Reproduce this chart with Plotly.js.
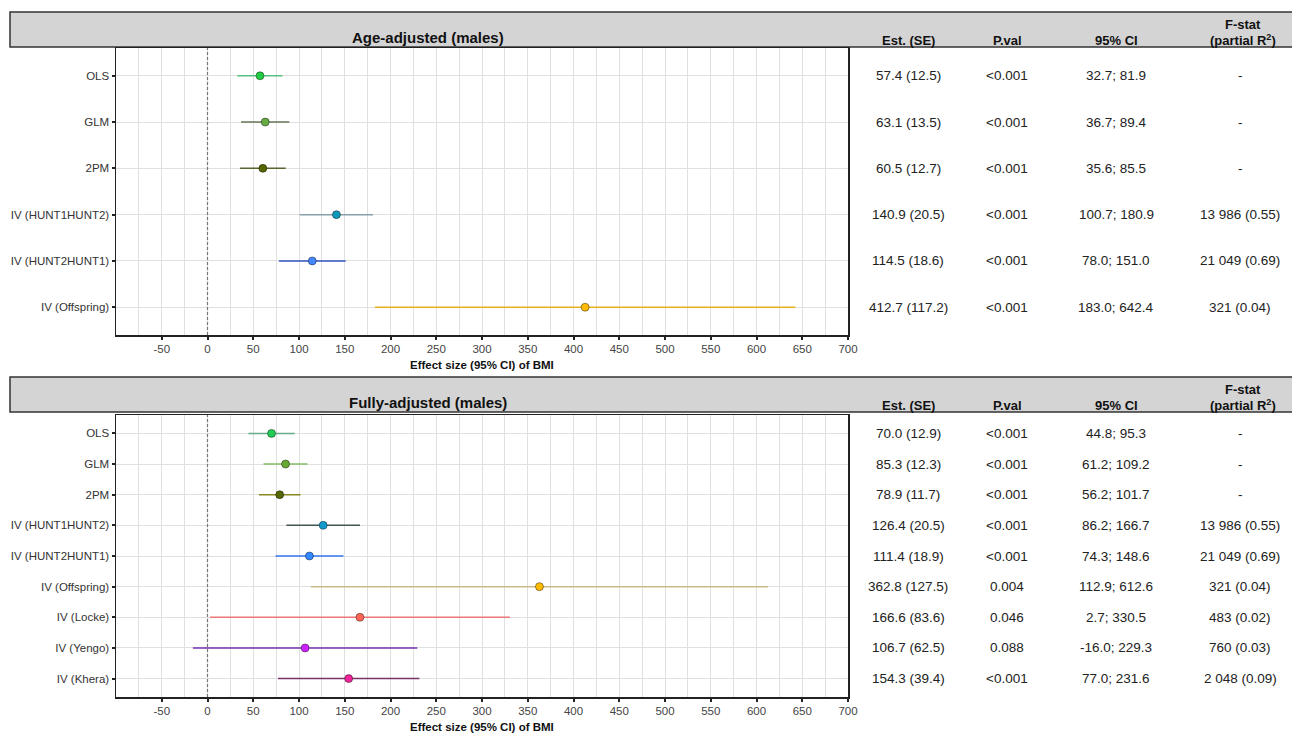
<!DOCTYPE html>
<html>
<head>
<meta charset="utf-8">
<script src="https://cdn.plot.ly/plotly-3.0.1.min.js"></script>
<style>html,body{margin:0;padding:0;background:#fff;}#chart{width:1292px;height:734px;}</style>
</head>
<body>
<div id="chart"></div>
<script>
// ---------- DATA ----------
const topTitle = 'Age-adjusted (males)';
const topLabels = ['OLS', 'GLM', '2PM', 'IV (HUNT1HUNT2)', 'IV (HUNT2HUNT1)', 'IV (Offspring)'];
const topEst = [57.4, 63.1, 60.5, 140.9, 114.5, 412.7];
const topSE  = [12.5, 13.5, 12.7, 20.5, 18.6, 117.2];
const topLo  = [32.7, 36.7, 35.6, 100.7, 78.0, 183.0];
const topHi  = [81.9, 89.4, 85.5, 180.9, 151.0, 642.4];
const topP   = ['<0.001', '<0.001', '<0.001', '<0.001', '<0.001', '<0.001'];
const topF   = ['-', '-', '-', '13 986 (0.55)', '21 049 (0.69)', '321 (0.04)'];

const botTitle = 'Fully-adjusted (males)';
const botLabels = ['OLS', 'GLM', '2PM', 'IV (HUNT1HUNT2)', 'IV (HUNT2HUNT1)', 'IV (Offspring)', 'IV (Locke)', 'IV (Yengo)', 'IV (Khera)'];
const botEst = [70.0, 85.3, 78.9, 126.4, 111.4, 362.8, 166.6, 106.7, 154.3];
const botSE  = [12.9, 12.3, 11.7, 20.5, 18.9, 127.5, 83.6, 62.5, 39.4];
const botLo  = [44.8, 61.2, 56.2, 86.2, 74.3, 112.9, 2.7, -16.0, 77.0];
const botHi  = [95.3, 109.2, 101.7, 166.7, 148.6, 612.6, 330.5, 229.3, 231.6];
const botP   = ['<0.001', '<0.001', '<0.001', '<0.001', '<0.001', '0.004', '0.046', '0.088', '<0.001'];
const botF   = ['-', '-', '-', '13 986 (0.55)', '21 049 (0.69)', '321 (0.04)', '483 (0.02)', '760 (0.03)', '2 048 (0.09)'];

const colHeaders = ['Est. (SE)', 'P.val', '95% CI'];
const fHeader = ['F-stat', '(partial R<sup>2</sup>)'];
const xTicks = [-50, 0, 50, 100, 150, 200, 250, 300, 350, 400, 450, 500, 550, 600, 650, 700];
const xTickText = ['-50', '0', '50', '100', '150', '200', '250', '300', '350', '400', '450', '500', '550', '600', '650', '700'];
const xTitle = 'Effect size (95% CI) of BMI';

// ---------- STYLE ----------
const topPointCol = ['#22cc44', '#66aa44', '#556600', '#1199bb', '#4488ff', '#ffbb00'];
const topLineCol  = ['#55c080', '#667755', '#556633', '#88a0a8', '#3355bb', '#e8b020'];
const botPointCol = ['#22cc55', '#66aa33', '#556600', '#1199cc', '#3388ff', '#ffbb00', '#ff6655', '#cc22ff', '#ee2299'];
const botLineCol  = ['#66aa88', '#88bb66', '#888822', '#445555', '#3377ee', '#ccbb88', '#ee7777', '#7733aa', '#773366'];

const W = 1292, H = 734;
const px = p => p / W;
const py = p => 1 - p / H;
const FONT = 'Liberation Sans, Arial, sans-serif';
const colX = [908, 1007, 1116];
const fX = 1240;

const traces = [];
const annotations = [];
const shapes = [];

function panel(labels, est, se, lo, hi, pv, fs, pcol, lcol, xa, ya, title, bandTop, bandBot, axisTitleY) {
  for (let i = 0; i < labels.length; i++) {
    traces.push({
      x: [lo[i], hi[i]], y: [labels[i], labels[i]], mode: 'lines', type: 'scatter',
      line: {color: lcol[i], width: 1.5}, xaxis: xa, yaxis: ya, hoverinfo: 'skip', showlegend: false
    });
  }
  traces.push({
    x: est, y: labels, mode: 'markers', type: 'scatter', xaxis: xa, yaxis: ya, showlegend: false,
    marker: {size: 8, color: pcol, line: {color: 'rgba(0,0,0,0.4)', width: 1}}
  });
  for (let i = 0; i < labels.length; i++) {
    const vals = [est[i].toFixed(1) + ' (' + se[i].toFixed(1) + ')', pv[i], lo[i].toFixed(1) + '; ' + hi[i].toFixed(1), fs[i]];
    const xs = colX.concat([fX]);
    vals.forEach((t, k) => annotations.push({
      xref: 'paper', yref: ya, x: px(xs[k]), y: i, text: t, showarrow: false,
      xanchor: 'center', yanchor: 'middle', font: {family: FONT, size: 13.5, color: '#222'}
    }));
  }
  // header band
  shapes.push({type: 'rect', xref: 'paper', yref: 'paper', x0: px(10), x1: px(1300), y0: py(bandBot), y1: py(bandTop),
    fillcolor: '#d4d4d4', line: {color: '#333', width: 1.5}, layer: 'below'});
  const hy = bandBot - 7;
  annotations.push({xref: 'paper', yref: 'paper', x: px(428), y: py(hy - 2), text: '<b>' + title + '</b>', showarrow: false,
    xanchor: 'center', yanchor: 'middle', font: {family: FONT, size: 15, color: '#111'}});
  colHeaders.forEach((t, k) => annotations.push({xref: 'paper', yref: 'paper', x: px(colX[k]), y: py(hy), text: '<b>' + t + '</b>',
    showarrow: false, xanchor: 'center', yanchor: 'middle', font: {family: FONT, size: 13, color: '#111'}}));
  annotations.push({xref: 'paper', yref: 'paper', x: px(1243), y: py(hy - 16), text: '<b>' + fHeader[0] + '</b>', showarrow: false,
    xanchor: 'center', yanchor: 'middle', font: {family: FONT, size: 13, color: '#111'}});
  annotations.push({xref: 'paper', yref: 'paper', x: px(1243), y: py(hy), text: '<b>' + fHeader[1] + '</b>', showarrow: false,
    xanchor: 'center', yanchor: 'middle', font: {family: FONT, size: 13, color: '#111'}});
  // axis title
  annotations.push({xref: 'paper', yref: 'paper', x: px(482), y: py(axisTitleY), text: '<b>' + xTitle + '</b>', showarrow: false,
    xanchor: 'center', yanchor: 'middle', font: {family: FONT, size: 11.5, color: '#111'}});
  // zero line
  const xr = xa === 'x' ? 'x' : 'x2';
  const yd = (ya === 'y' ? 'y' : 'y2') + ' domain';
  shapes.push({type: 'line', xref: xr, yref: yd, x0: 0, x1: 0, y0: 0, y1: 1,
    line: {color: '#777', width: 1.2, dash: '3px,2px'}});
}

panel(topLabels, topEst, topSE, topLo, topHi, topP, topF, topPointCol, topLineCol, 'x', 'y', topTitle, 12, 47, 365);
panel(botLabels, botEst, botSE, botLo, botHi, botP, botF, botPointCol, botLineCol, 'x2', 'y2', botTitle, 377, 412, 727);

function xaxisDef(anchor) {
  return {
    domain: [px(116), px(848)], anchor: anchor, range: [-100, 700],
    tickmode: 'array', tickvals: xTicks, ticktext: xTickText, ticks: 'outside', ticklen: 3, tickwidth: 2, tickcolor: '#222',
    showgrid: true, gridcolor: '#e0e0e0', gridwidth: 1, zeroline: false,
    minor: {tickmode: 'linear', tick0: 0, dtick: 25, showgrid: true, gridcolor: '#e0e0e0', gridwidth: 1, ticklen: 0},
    showline: true, linecolor: '#222', linewidth: 1.5, mirror: true,
    tickfont: {family: FONT, size: 11.5, color: '#444'}, fixedrange: true
  };
}
function yaxisDef(anchor, labels, dom) {
  return {
    domain: dom, anchor: anchor, type: 'category', categoryorder: 'array', categoryarray: labels,
    range: [labels.length - 1 + 0.6, -0.6], ticks: 'outside', ticklen: 3, tickwidth: 2, tickcolor: '#222',
    showgrid: true, gridcolor: '#e0e0e0', gridwidth: 1, zeroline: false,
    showline: true, linecolor: '#222', linewidth: 1.5, mirror: true,
    tickfont: {family: FONT, size: 11.5, color: '#333'}, fixedrange: true
  };
}

const layout = {
  width: W, height: H, margin: {l: 0, r: 0, t: 0, b: 0},
  paper_bgcolor: '#fff', plot_bgcolor: '#fff', showlegend: false,
  xaxis: xaxisDef('y'),
  yaxis: yaxisDef('x', topLabels, [py(335), py(48)]),
  xaxis2: xaxisDef('y2'),
  yaxis2: yaxisDef('x2', botLabels, [py(697), py(415)]),
  annotations: annotations, shapes: shapes
};

Plotly.newPlot('chart', traces, layout, {displayModeBar: false, staticPlot: true});
</script>
</body>
</html>
